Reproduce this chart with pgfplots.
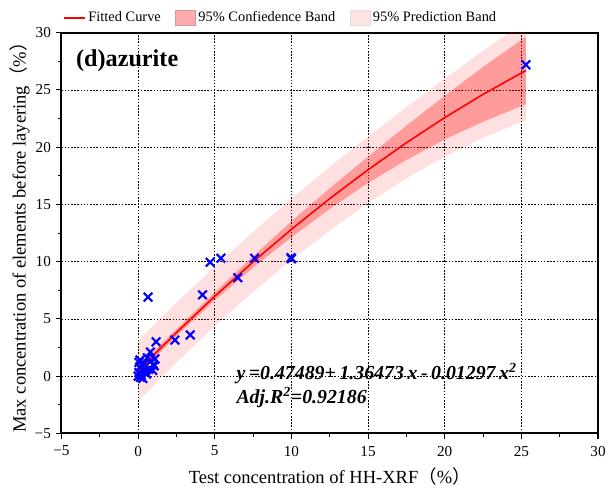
\documentclass[border=0pt]{standalone}
\usepackage{fontspec}
\setmainfont{Liberation Serif}
\newfontfamily\cjk{Noto Sans CJK SC}
\usepackage{pgfplots}
\pgfplotsset{compat=1.18}
\definecolor{bandred}{RGB}{255,0,0}
\definecolor{confbox}{RGB}{255,170,170}
\definecolor{predbox}{RGB}{255,226,226}

\begin{document}
\begin{tikzpicture}
\begin{axis}[
  scale only axis, width=405.75pt, height=303pt,
  xmin=-5, xmax=30, ymin=-5, ymax=30,
  xtick={-5,0,...,30}, ytick={-5,0,...,30},
  xticklabels={−5,0,5,10,15,20,25,30},
  yticklabels={−5,0,5,10,15,20,25,30},
  minor tick num=1,
  tick align=outside, tick pos=left,
  major tick length=4.5pt, minor tick length=2.5pt,
  axis line style={line width=1.5pt},
  tick style={black, line width=0.8pt},
  grid=major,
  major grid style={black, line width=0.6pt, dash pattern=on 1.2pt off 1.2pt},
  tick label style={font=\fontsize{11.5}{12}\selectfont},
  xticklabel style={yshift=-1.5pt},
  label style={font=\fontsize{14}{15}\selectfont},
  xlabel={Test concentration of HH-XRF{\cjk （}\%{\cjk ）}},
  ylabel={Max concentration of elements before layering{\cjk （}\%{\cjk ）}},
  xlabel shift=2pt, ylabel shift=-3pt,
  legend style={at={(-0.005,1.008)}, anchor=south west, draw=none, fill=none,
    font=\fontsize{10.9}{12}\selectfont, legend columns=-1,
    /tikz/every even column/.append style={column sep=9pt}},
]
% legend entries
\addlegendimage{legend image code/.code={\draw[red, line width=1.2pt] (0pt,0pt) -- (16pt,0pt);}}
\addlegendentry{Fitted Curve}
\addlegendimage{legend image code/.code={\draw[fill=confbox, draw=red!30!gray!60] (0pt,-5.5pt) rectangle (15pt,6pt);}}
\addlegendentry{95\% Confiedence Band}
\addlegendimage{legend image code/.code={\draw[fill=predbox, draw=red!10!gray!25] (0pt,-5.5pt) rectangle (15pt,6pt);}}
\addlegendentry{95\% Prediction Band}

% measured points
\addplot[only marks, mark=x, blue, mark size=4.6pt, line width=1.6pt, forget plot] coordinates {
  (25.3,27.2) (9.97,10.35) (10.0,10.25) (7.6,10.3) (5.4,10.3) (4.7,9.95)
  (6.5,8.6) (4.2,7.1) (0.65,6.9) (3.4,3.6) (2.4,3.15) (1.17,3.0) (0.8,2.1)
  (0,0) (0.05,0.3) (0.1,0.8) (0.12,1.4) (0.2,0.1) (0.25,0.6) (0.3,-0.2)
  (0.35,1.1) (0.4,0.4) (0.5,0.9) (0.55,0.2) (0.7,0.6) (0.8,1.3) (0.95,0.5)
  (1.05,0.9) (1.1,1.5) (0.15,-0.1) (0.6,1.6) (0.05,1.2) (0.3,0.5) (1.0,1.0)
};

% 95% prediction band
\addplot[fill=bandred, fill opacity=0.12, draw=none, forget plot] coordinates {
  (0,3.125) (2.5,6.406) (5,9.574) (7.5,12.6) (10,15.505) (12.5,18.287)
  (15,20.928) (17.5,23.486) (20,25.982) (22.5,28.415) (25.3,31.051)
  (25.3,22.351) (22.5,20.815) (20,19.182) (17.5,17.286) (15,15.128)
  (12.5,12.727) (10,10.145) (7.5,7.36) (5,4.374) (2.5,1.206) (0,-2.175)
} -- cycle;

% 95% confidence band
\addplot[fill=bandred, fill opacity=0.31, draw=none, forget plot] coordinates {
  (0,0.825) (2.5,4.106) (5,7.324) (7.5,10.48) (10,13.525) (12.5,16.407)
  (15,19.178) (17.5,21.886) (20,24.482) (22.5,27.015) (25.3,29.651)
  (25.3,23.751) (22.5,22.215) (20,20.682) (17.5,18.886) (15,16.878)
  (12.5,14.607) (10,12.125) (7.5,9.48) (5,6.624) (2.5,3.506) (0,0.125)
} -- cycle;

% fitted curve
\addplot[red, line width=1.2pt, forget plot] coordinates {
  (0,0.475) (1,1.827) (2.5,3.806) (5,6.974) (7.5,9.980) (10,12.825)
  (12.5,15.507) (15,18.028) (17.5,20.386) (20,22.582) (22.5,24.615) (25.3,26.701)
};

\node[anchor=west, font=\fontsize{18.3}{20}\selectfont\bfseries] at (axis cs:-4.35,27.6) {(d)azurite};
\node[anchor=west, font=\fontsize{15}{17}\selectfont\bfseries\itshape, inner sep=0pt] at (axis cs:6.4,0.25)
  {y\hspace{0.18em}=0.47489+\hspace{0.18em}1.36473\hspace{0.18em}x\hspace{0.18em}-\hspace{0.18em}0.01297\hspace{0.18em}x\textsuperscript{2}};
\node[anchor=west, font=\fontsize{15}{17}\selectfont\bfseries\itshape, inner sep=0pt] at (axis cs:6.4,-1.9)
  {Adj.R\textsuperscript{2}=0.92186};
\end{axis}
\path (current axis.north west) ++(0pt,24.75pt);
\path (current axis.south west) ++(-46.5pt,-42pt);
\end{tikzpicture}
\end{document}
